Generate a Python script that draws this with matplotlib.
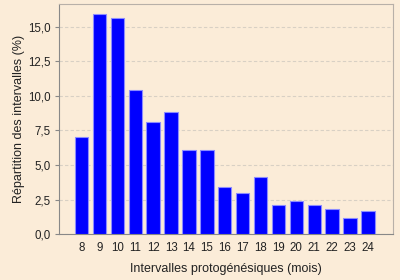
import matplotlib
matplotlib.use("Agg")
import matplotlib.pyplot as plt
from matplotlib.ticker import FuncFormatter

# Intervalles protogénésiques (mois) et répartition (%)
mois = [8, 9, 10, 11, 12, 13, 14, 15, 16, 17, 18, 19, 20, 21, 22, 23, 24]
pourcent = [7.0, 15.9, 15.6, 10.4, 8.1, 8.8, 6.1, 6.1, 3.4, 3.0, 4.1,
            2.1, 2.4, 2.1, 1.85, 1.15, 1.7]

plt.rcParams['font.family'] = ['Liberation Sans', 'DejaVu Sans']

bg = "#fbecd8"
fig = plt.figure(figsize=(4, 2.8), dpi=100, facecolor=bg)
ax = fig.add_axes([0.1475, 0.164, 0.835, 0.822], facecolor=bg)

ax.bar(mois, pourcent, width=0.75, color="#0000ff", edgecolor="#8c8cff", linewidth=0.8, zorder=3)

ax.set_xlim(6.74, 25.4)
ax.set_ylim(0, 16.65)
ax.set_xticks(mois)
ax.set_yticks([0, 2.5, 5, 7.5, 10, 12.5, 15])
ax.yaxis.set_major_formatter(FuncFormatter(lambda v, p: f"{v:.1f}".replace(".", ",")))
ax.grid(axis="y", color="#d8d0c4", linestyle=(0, (3, 2)), linewidth=0.8, zorder=0)

for s in ["left", "bottom"]:
    ax.spines[s].set_color("#888888")
for s in ["top", "right"]:
    ax.spines[s].set_color("#b8b0a8")
ax.tick_params(axis="x", length=0, labelsize=8.3, pad=6, labelcolor="#222222")
ax.tick_params(axis="y", length=3, color="#888888", labelsize=8.3, pad=3, labelcolor="#222222")

ax.set_xlabel("Intervalles protogénésiques (mois)", fontsize=9, labelpad=6.5, color="#222222")
ax.set_ylabel("Répartition des intervalles (%)", fontsize=9, labelpad=2, color="#222222")

fig.savefig("out.png", dpi=100, facecolor=bg)
